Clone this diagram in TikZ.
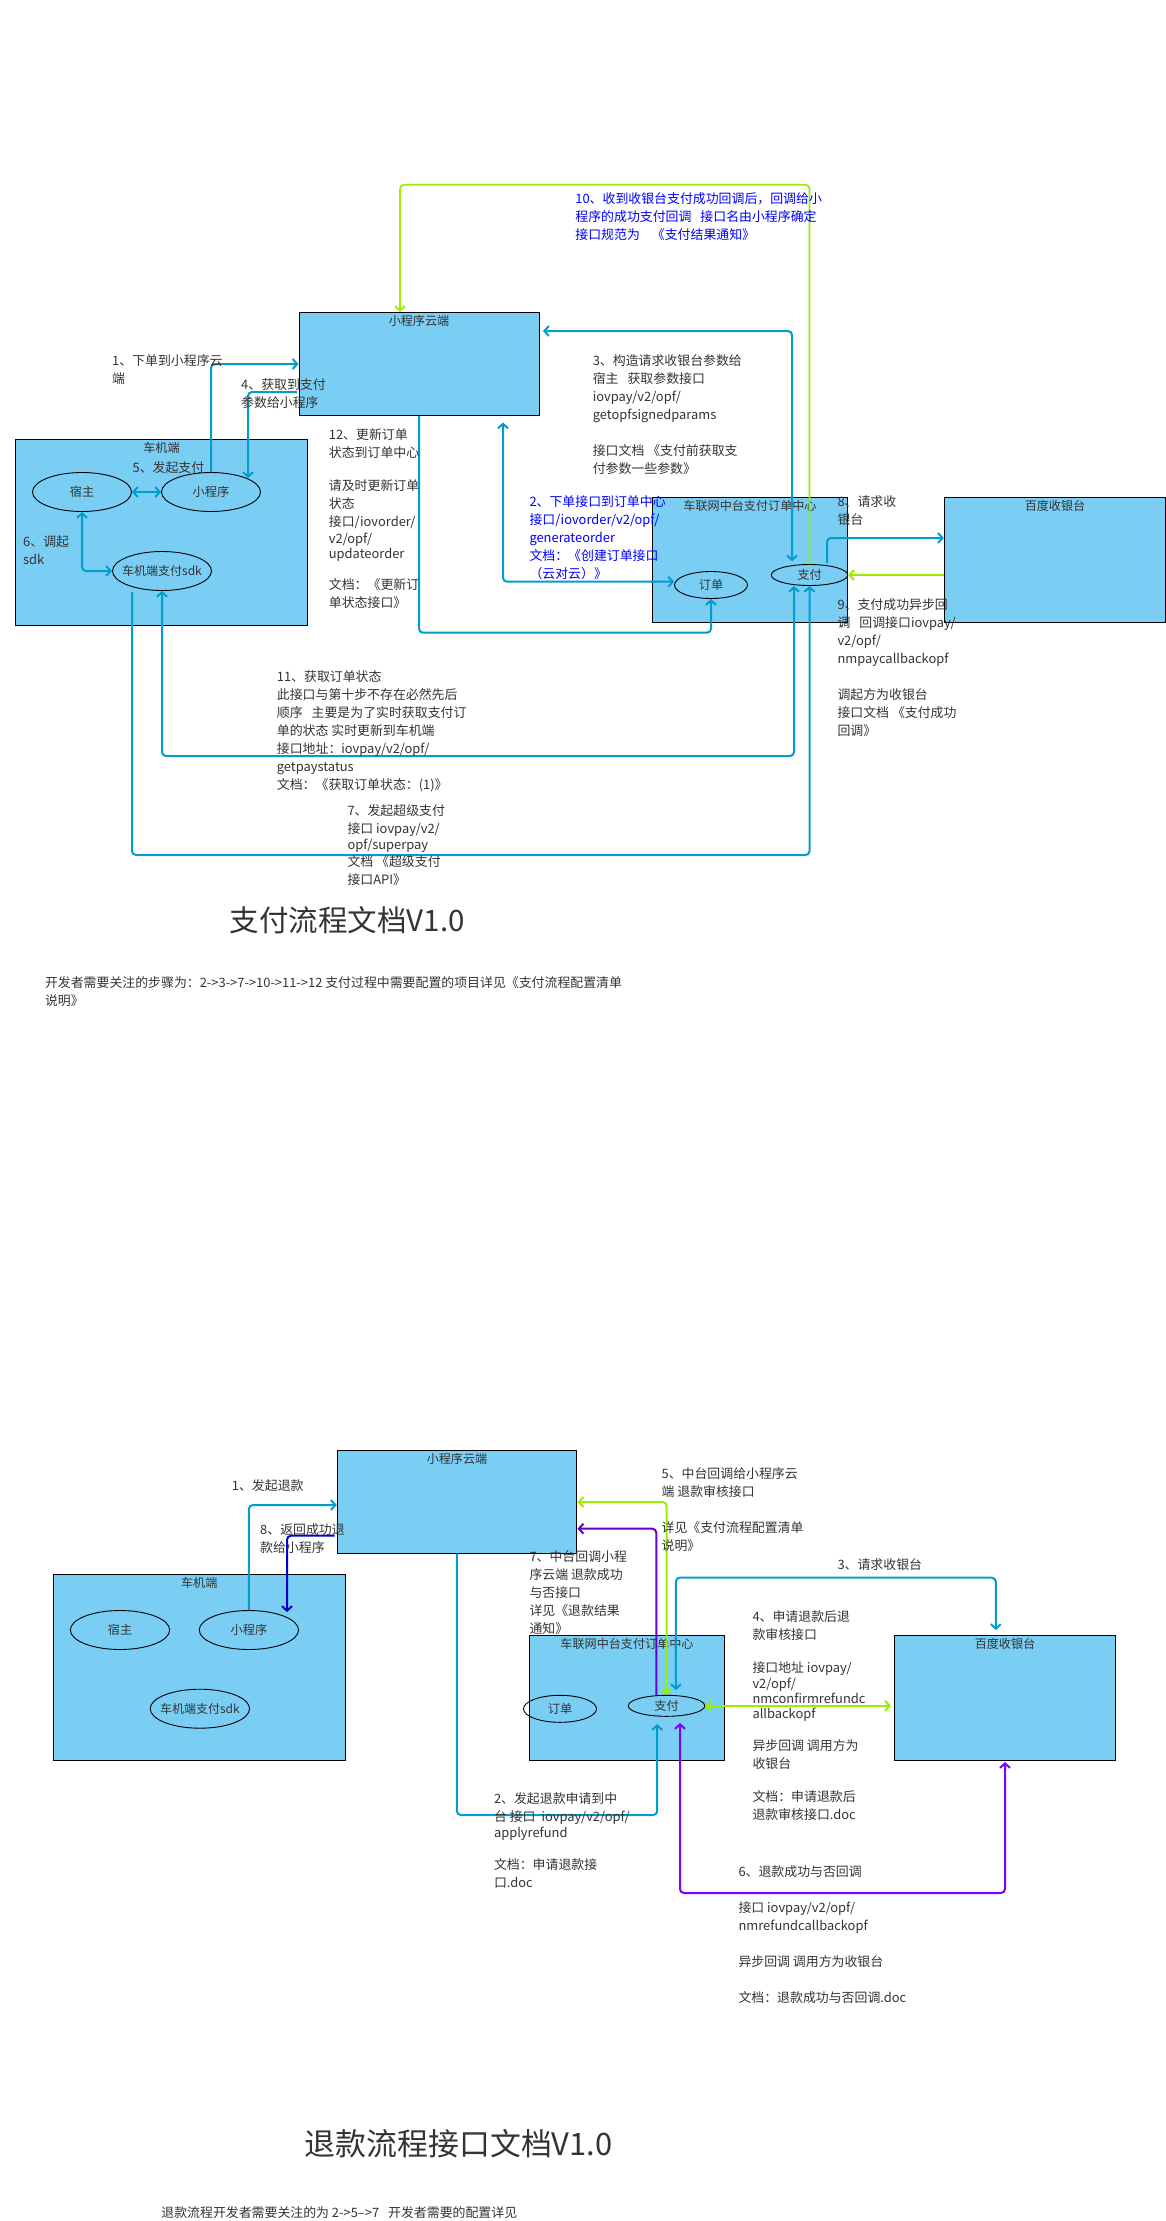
\documentclass[tikz,border=0pt]{standalone}
\usepackage{fontspec}
\setmainfont{Noto Sans CJK SC}
\usetikzlibrary{arrows.meta,shapes.geometric}
\definecolor{boxfill}{HTML}{7ACEF4}
\definecolor{inkgray}{HTML}{333333}
\definecolor{flowblue}{HTML}{009DCE}
\definecolor{flowgreen}{HTML}{99EE00}
\definecolor{flowpurple}{HTML}{8000FF}
\definecolor{flowindigo}{HTML}{6600CC}
\definecolor{flownavy}{HTML}{0000CC}
\newcommand{\widegap}{\hspace{9pt}}
\tikzset{
  box/.style={draw=black, line width=1pt, fill=boxfill, inner sep=0pt},
  oval/.style={ellipse, draw=black, line width=0.9pt, inner sep=0pt, text=inkgray, font=\fontsize{12.2}{18}\selectfont},
  sdkoval/.style={oval, inner xsep=-7pt, font=\fontsize{12}{18}\selectfont},
  boxtitle/.style={inner sep=0pt, text=inkgray, font=\fontsize{12.1}{18}\selectfont},
  note/.style={anchor=north west, inner sep=0pt, align=left, text=inkgray, yshift=-0.6pt, font=\fontsize{12.9}{18}\selectfont},
  bluenote/.style={note, text=blue},
  flow/.style={flowblue, line width=2pt, rounded corners=4pt},
  >={Straight Barb[length=4.5pt,width=10pt]}
}
\begin{document}
\begin{tikzpicture}[x=1pt,y=-1pt]
\useasboundingbox (0,0) rectangle (1166,2221);
\node[box, minimum width=240pt, minimum height=103.4pt] (cloudA) at (419,364) {};
\node[box, minimum width=291.7pt, minimum height=186.4pt] (carA) at (161.5,532.5) {};
\node[box, minimum width=195pt, minimum height=124.8pt] (midA) at (750,559.9) {};
\node[box, minimum width=221.3pt, minimum height=124.8pt] (baiduA) at (1055,559.9) {};
\node[boxtitle] (cloudAtitle) at (419,320.7) {小程序云端};
\node[boxtitle] (carAtitle) at (161.5,447.7) {车机端};
\node[boxtitle] (midAtitle) at (750,505.5) {车联网中台支付订单中心};
\node[boxtitle] (baiduAtitle) at (1055,505.5) {百度收银台};
\node[oval, minimum width=99pt, minimum height=39pt] (hostA) at (82,492) {宿主};
\node[oval, minimum width=99pt, minimum height=39pt] (miniA) at (211,492) {小程序};
\node[sdkoval, minimum width=99pt, minimum height=39pt] (sdkA) at (162,571) {车机端支付sdk};
\node[oval, minimum width=73pt, minimum height=27pt] (orderA) at (711,585) {订单};
\node[oval, minimum width=76.5pt, minimum height=21pt] (payA) at (809.5,575) {支付};
\coordinate (miniAin) at (248,478);
\coordinate (cloudAout) at (297,392);
\coordinate (cloudAright) at (543,331);
\coordinate (cloudAbelow) at (503,422.5);
\coordinate (payAtop) at (792,561.4);
\coordinate (sdkAout) at (132,592);
\draw[flow,->] (miniA.north) |- (cloudA.west |- 0,364);
\draw[flow,->] (cloudAout) -| (miniAin);
\draw[flow,<->] (hostA.east) -- (miniA.west);
\draw[flow,<->] (hostA.south) |- (sdkA.west);
\draw[flow,<->] (cloudAright) -| (payAtop);
\draw[flow,<->] (cloudAbelow) |- (orderA.west |- 0,581.7);
\draw[flow,->] (cloudA.south) |- (711,632.7) -- (orderA.south);
\draw[flow,->] (827,563) |- (baiduA.west |- 0,538);
\draw[flow,flowgreen,->] (baiduA.west |- payA.east) -- (payA.east);
\draw[flow,<->] (sdkA.south) |- (794,756) -- (794,586);
\draw[flow,->] (sdkAout) |- (809.5,855) -- (payA.south);
\draw[flow,flowgreen,line width=1.8pt,->] (payA.north) |- (400,184.8) -- (cloudA.north -| 400,0);
\node[note] (stepA1) at (112,353.5) {1、下单到小程序云\\端};
\node[note] (stepA4) at (241,377.8) {4、获取到支付\\参数给小程序};
\node[note] (stepA5) at (132.4,460.5) {5、发起支付};
\node[note] (stepA6) at (23,534.5) {6、调起\\sdk};
\node[note] (stepA12) at (328.7,427.8) {12、更新订单\\状态到订单中心\\[15pt]请及时更新订单\\状态\\接口/iovorder/\\[-1pt]v2/opf/\\[-3.4pt]updateorder\\[13.4pt]文档：《更新订\\单状态接口》};
\node[note] (stepA3) at (592.6,353.5) {3、构造请求收银台参数给\\宿主\widegap 获取参数接口\\iovpay/v2/opf/\\getopfsignedparams\\[18pt]接口文档 《支付前获取支\\付参数一些参数》};
\node[bluenote] (stepA2) at (529.3,494.8) {2、下单接口到订单中心\\接口/iovorder/v2/opf/\\generateorder\\文档：《创建订单接口\\（云对云）》};
\node[note] (stepA8) at (837.3,494.8) {8、请求收\\银台};
\node[note] (stepA9) at (837.3,597.8) {9、支付成功异步回\\调\widegap 回调接口iovpay/\\v2/opf/\\nmpaycallbackopf\\[18pt]调起方为收银台\\接口文档 《支付成功\\回调》};
\node[bluenote] (stepA10) at (575.2,191.7) {10、收到收银台支付成功回调后，回调给小\\程序的成功支付回调\widegap 接口名由小程序确定\\接口规范为\widegap\hspace{3pt}《支付结果通知》};
\node[note] (stepA11) at (276.7,670.2) {11、获取订单状态\\此接口与第十步不存在必然先后\\顺序\widegap 主要是为了实时获取支付订\\单的状态 实时更新到车机端\\接口地址：iovpay/v2/opf/\\getpaystatus\\文档：《获取订单状态：(1)》};
\node[note] (stepA7) at (347.3,804.2) {7、发起超级支付\\接口 iovpay/v2/\\[-2pt]opf/superpay\\[-1.3pt]文档 《超级支付\\接口API》};
\node[note, font=\fontsize{29.5}{36}\selectfont] (titleA) at (229.6,905.5) {支付流程文档V1.0};
\node[note] (descA) at (44.8,976.2) {开发者需要关注的步骤为：2->3->7->10->11->12 支付过程中需要配置的项目详见《支付流程配置清单\\说明》};
\node[box, minimum width=239.3pt, minimum height=102.8pt] (cloudB) at (456.9,1501.8) {};
\node[box, minimum width=292.2pt, minimum height=186.1pt] (carB) at (199.4,1667.4) {};
\node[box, minimum width=195.4pt, minimum height=124.8pt] (midB) at (627,1697.9) {};
\node[box, minimum width=220.9pt, minimum height=124.8pt] (baiduB) at (1005,1697.9) {};
\node[boxtitle] (cloudBtitle) at (457,1458.6) {小程序云端};
\node[boxtitle] (carBtitle) at (199.2,1582.5) {车机端};
\node[boxtitle] (midBtitle) at (627,1644) {车联网中台支付订单中心};
\node[boxtitle] (baiduBtitle) at (1005,1644) {百度收银台};
\node[oval, minimum width=99.3pt, minimum height=39pt] (hostB) at (120,1630) {宿主};
\node[oval, minimum width=99.3pt, minimum height=39pt] (miniB) at (248.9,1630) {小程序};
\node[sdkoval, minimum width=99.3pt, minimum height=39pt] (sdkB) at (199.9,1708.7) {车机端支付sdk};
\node[oval, minimum width=73pt, minimum height=27pt] (orderB) at (560,1708.8) {订单};
\node[oval, minimum width=76.5pt, minimum height=21pt] (payB) at (666.5,1705.8) {支付};
\coordinate (miniBin) at (287,1612);
\coordinate (cloudBout) at (334.5,1535.7);
\coordinate (cloudBright) at (577.5,1502);
\coordinate (cloudBright2) at (577.5,1528.7);
\coordinate (payBin) at (657.2,1724);
\coordinate (payBin2) at (680,1723);
\coordinate (payBtop) at (675.9,1690);
\coordinate (payBout) at (656.3,1695.5);
\coordinate (baiduBin) at (995.8,1630);
\coordinate (baiduBin2) at (1005,1762);
\draw[flow,->] (miniB.north) |- (cloudB.west |- 0,1505);
\draw[flow,flownavy,->] (cloudBout) -| (miniBin);
\draw[flow,->] (cloudB.south) |- (657.2,1815) -- (payBin);
\draw[flow,<->] (payBtop) |- (995.8,1577.7) -- (baiduBin);
\draw[flow,flowgreen,<->] (payB.north) |- (cloudBright);
\draw[flow,flowindigo,->] (payBout) |- (cloudBright2);
\draw[flow,flowgreen,<->] (payB.east) -- (891,1705.8);
\draw[flow,flowpurple,<->] (payBin2) |- (1005,1893) -- (baiduBin2);
\node[note] (stepB1) at (231.7,1478.9) {1、发起退款};
\node[note] (stepB8) at (260,1522.8) {8、返回成功退\\款给小程序};
\node[note] (stepB5) at (661.4,1467.1) {5、中台回调给小程序云\\端 退款审核接口\\[18pt]详见《支付流程配置清单\\说明》};
\node[note] (stepB7) at (529.3,1549.8) {7、中台回调小程\\序云端 退款成功\\与否接口\\详见《退款结果\\通知》};
\node[note] (stepB3) at (837.3,1557.8) {3、请求收银台};
\node[note] (stepB4) at (752.3,1609.9) {4、申请退款后退\\款审核接口\\[15pt]接口地址 iovpay/\\[-2.4pt]v2/opf/\\[-3pt]nmconfirmrefundc\\[-2.7pt]allbackopf\\[13.7pt]异步回调 调用方为\\收银台\\[15pt]文档：申请退款后\\退款审核接口.doc};
\node[note] (stepB6) at (738.3,1864.8) {6、退款成功与否回调\\[18pt]接口 iovpay/v2/opf/\\nmrefundcallbackopf\\[18pt]异步回调 调用方为收银台\\[18pt]文档：退款成功与否回调.doc};
\node[note] (stepB2) at (493.8,1791.7) {2、发起退款申请到中\\台 接口\hspace{6pt}iovpay/v2/opf/\\[-1.5pt]applyrefund\\[14pt]文档：申请退款接\\口.doc};
\node[note, font=\fontsize{30.9}{38}\selectfont] (titleB) at (304.5,2128.5) {退款流程接口文档V1.0};
\node[note] (descB) at (161.2,2206.2) {退款流程开发者需要关注的为 2->5–>7\widegap 开发者需要的配置详见};
\end{tikzpicture}
\end{document}
